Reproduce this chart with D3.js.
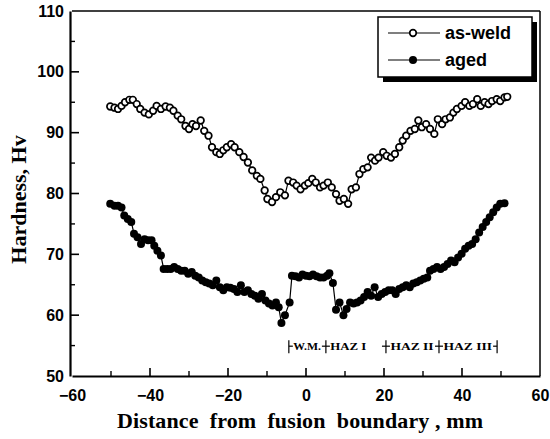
<!DOCTYPE html>
<html>
<head>
<meta charset="utf-8">
<script src="https://cdn.jsdelivr.net/npm/d3@7"></script>
<style>
  html, body { margin: 0; padding: 0; background: #fff; }
  svg { display: block; }
</style>
</head>
<body>
<div id="chart"></div>
<script>
// ---------- data ----------
const asWeldX = [-50.2,-49.1,-48.2,-47.3,-46.4,-45.3,-44.4,-43.4,-42.5,-41.4,-40.3,-39.2,-38.3,-37.2,-36.0,-34.9,-34.0,-32.9,-32.0,-30.9,-30.0,-29.1,-28.2,-27.0,-26.1,-25.0,-24.1,-23.0,-22.1,-21.2,-20.3,-19.2,-18.3,-17.1,-16.0,-14.9,-13.8,-12.6,-11.7,-10.6,-9.9,-8.7,-7.7,-6.6,-5.4,-4.5,-3.3,-2.4,-1.4,-0.3,0.6,1.6,2.5,3.6,4.5,5.6,6.6,7.7,8.6,9.7,10.8,11.7,12.8,13.7,14.7,15.8,16.7,17.7,18.6,19.8,20.7,21.8,22.8,23.9,24.8,25.7,26.8,27.9,28.8,29.7,30.8,31.8,32.9,33.8,34.9,35.8,36.9,37.8,38.7,39.9,40.8,41.9,42.8,43.9,44.8,45.8,46.8,47.7,48.9,49.8,50.9,51.6];
const asWeldY = [94.3,94.1,93.9,94.4,95.0,95.4,95.4,94.7,93.9,93.3,93.0,93.6,94.4,93.9,94.3,94.1,93.6,92.8,92.2,91.1,90.6,91.4,91.1,92.0,90.3,89.5,87.6,86.8,86.5,87.1,87.6,88.1,87.6,86.8,86.0,85.1,83.8,82.9,82.4,80.5,79.1,78.6,79.4,80.2,79.7,82.1,81.8,81.3,80.7,81.3,81.7,82.4,81.8,81.0,81.3,81.8,81.0,79.9,78.8,79.1,78.3,80.7,81.0,83.2,84.0,84.3,85.9,85.4,85.9,86.8,86.2,85.9,86.5,87.6,88.7,89.5,90.3,90.6,92.0,90.9,91.4,90.6,89.8,92.2,91.4,92.2,92.5,93.3,93.9,94.4,95.0,94.4,94.7,95.5,94.4,95.0,94.7,95.2,95.5,95.2,95.8,95.9];

const agedX = [-50.2,-49.1,-48.2,-47.3,-46.6,-45.7,-44.8,-44.1,-43.2,-42.3,-41.4,-40.5,-39.6,-38.9,-38.1,-37.2,-36.5,-35.6,-34.7,-33.8,-32.9,-32.0,-31.1,-30.2,-29.3,-28.4,-27.5,-26.6,-25.7,-24.8,-23.9,-23.0,-22.1,-21.2,-20.3,-19.4,-18.5,-17.6,-16.7,-15.8,-14.9,-14.0,-13.1,-12.2,-11.3,-10.4,-9.5,-8.6,-7.7,-7.0,-6.3,-5.4,-4.2,-3.6,-2.7,-1.8,-0.9,0.0,0.9,1.8,2.7,3.6,4.5,5.4,6.0,6.9,7.7,8.6,9.6,10.4,11.3,12.2,13.1,14.0,14.9,15.8,16.7,17.6,18.5,19.4,20.3,21.2,22.1,23.0,23.9,24.8,25.7,26.6,27.5,28.4,29.3,30.2,31.1,31.8,32.7,33.6,34.5,35.4,36.3,37.2,38.1,39.0,39.9,40.8,41.7,42.6,43.5,44.4,45.3,46.2,47.1,48.0,48.9,49.8,50.9];
const agedY = [78.3,78.0,78.0,77.7,76.4,75.8,75.3,73.4,72.8,71.7,72.5,72.3,72.3,71.4,70.6,69.8,67.6,67.6,67.6,67.9,67.6,67.3,67.3,66.8,67.1,66.5,66.2,65.7,65.4,65.2,64.9,65.7,64.6,64.1,64.6,64.5,64.3,63.8,64.9,63.8,64.1,63.5,63.2,62.7,63.5,62.4,61.9,61.6,62.1,61.3,58.7,60.0,62.1,66.5,66.4,66.2,66.7,66.5,66.4,66.7,66.4,66.2,66.2,66.5,66.9,65.3,60.9,62.1,60.0,61.0,62.1,61.9,62.1,62.4,63.0,63.8,63.2,64.6,63.0,63.5,63.8,64.1,64.1,63.5,64.3,64.6,64.9,64.6,65.2,65.4,65.7,66.0,66.2,67.3,67.6,67.9,67.6,67.9,68.4,69.0,68.7,69.5,70.1,70.9,71.4,71.7,72.5,73.6,74.5,75.3,76.1,76.9,77.7,78.3,78.4];

const seriesNames = ["as-weld", "aged"];
const xTickLabels = [-60, -40, -20, 0, 20, 40, 60];
const yTickLabels = [50, 60, 70, 80, 90, 100, 110];
const zoneBounds = [-4.4, 5.1, 20.5, 34.1, 49.0];
const zoneLabels = ["W.M.", "HAZ I", "HAZ II", "HAZ III"];
const zoneLevel = 54.9;

// ---------- layout ----------
const W = 550, H = 439;
const X0 = 72, X1 = 540, Y0 = 376, Y1 = 11;

const svg = d3.select("#chart").append("svg")
  .attr("width", W).attr("height", H)
  .attr("viewBox", `0 0 ${W} ${H}`);

const x = d3.scaleLinear().domain([-60, 60]).range([X0, X1]);
const y = d3.scaleLinear().domain([50, 110]).range([Y0, Y1]);

// frame (top & right)
svg.append("line").attr("x1", x(-60)).attr("x2", x(60)).attr("y1", y(110)).attr("y2", y(110))
  .attr("stroke", "#000").attr("stroke-width", 1.5);
svg.append("line").attr("x1", x(60)).attr("x2", x(60)).attr("y1", y(110)).attr("y2", y(50))
  .attr("stroke", "#000").attr("stroke-width", 1.5);

// axes
const xMinor = d3.range(-50, 60, 20);
const yMinor = d3.range(55, 110, 10);

const gx = svg.append("g").attr("transform", `translate(0,${Y0})`);
gx.call(d3.axisBottom(x).tickValues(xTickLabels).tickSize(0).tickPadding(14).tickFormat(d => d < 0 ? "\u2212" + Math.abs(d) : d));
gx.select(".domain").attr("stroke-width", 2.2);
gx.selectAll(".tick text").attr("font-family", "Liberation Sans, Arial, sans-serif")
  .attr("font-size", 16).attr("font-weight", "bold").attr("fill", "#000");
gx.selectAll(".tickmaj").data(xTickLabels.slice(1, -1)).enter().append("line")
  .attr("x1", d => x(d)).attr("x2", d => x(d)).attr("y1", 0).attr("y2", -8)
  .attr("stroke", "#000").attr("stroke-width", 1.6);
gx.selectAll(".tickmin").data(xMinor).enter().append("line")
  .attr("x1", d => x(d)).attr("x2", d => x(d)).attr("y1", 0).attr("y2", -5)
  .attr("stroke", "#000").attr("stroke-width", 1.4);

const gy = svg.append("g").attr("transform", `translate(${X0 - 2},0)`);
gy.call(d3.axisLeft(y).tickValues(yTickLabels).tickSize(0).tickPadding(6));
gy.select(".domain").attr("stroke-width", 2.2);
gy.selectAll(".tick text").attr("font-family", "Liberation Sans, Arial, sans-serif")
  .attr("font-size", 16).attr("font-weight", "bold").attr("fill", "#000");
gy.selectAll(".tickmaj").data(yTickLabels.slice(1, -1)).enter().append("line")
  .attr("x1", 0).attr("x2", 9).attr("y1", d => y(d)).attr("y2", d => y(d))
  .attr("stroke", "#000").attr("stroke-width", 1.6);
gy.selectAll(".tickmin").data(yMinor).enter().append("line")
  .attr("x1", 0).attr("x2", 5).attr("y1", d => y(d)).attr("y2", d => y(d))
  .attr("stroke", "#000").attr("stroke-width", 1.4);

// axis titles
svg.append("text")
  .attr("transform", `translate(26,${(Y0 + Y1) / 2 + 6}) rotate(-90)`)
  .attr("text-anchor", "middle")
  .attr("font-family", "Liberation Serif, Times New Roman, serif")
  .attr("font-size", 22).attr("font-weight", "bold")
  .text("Hardness, Hv");

svg.append("text")
  .attr("x", 300).attr("y", 428)
  .attr("text-anchor", "middle")
  .attr("font-family", "Liberation Serif, Times New Roman, serif")
  .attr("font-size", 22).attr("font-weight", "bold")
  .attr("textLength", 366).attr("lengthAdjust", "spacing")
  .text("Distance\u00a0\u00a0from\u00a0\u00a0fusion\u00a0\u00a0boundary\u00a0, mm");

// series
const asWeld = asWeldX.map((v, i) => [v, asWeldY[i]]);
const aged = agedX.map((v, i) => [v, agedY[i]]);
const line = d3.line().x(d => x(d[0])).y(d => y(d[1]));

svg.append("path").datum(aged).attr("d", line)
  .attr("fill", "none").attr("stroke", "#000").attr("stroke-width", 1.2);
svg.selectAll(".aged").data(aged).enter().append("circle")
  .attr("cx", d => x(d[0])).attr("cy", d => y(d[1])).attr("r", 4)
  .attr("fill", "#000");

svg.append("path").datum(asWeld).attr("d", line)
  .attr("fill", "none").attr("stroke", "#000").attr("stroke-width", 1.2);
svg.selectAll(".asweld").data(asWeld).enter().append("circle")
  .attr("cx", d => x(d[0])).attr("cy", d => y(d[1])).attr("r", 3.3)
  .attr("fill", "#fff").attr("stroke", "#000").attr("stroke-width", 1.7);

// zone annotation
const zy = y(zoneLevel);
const gz = svg.append("g");
zoneBounds.forEach((b, i) => {
  const bx = x(b);
  gz.append("line").attr("x1", bx).attr("x2", bx).attr("y1", zy - 6).attr("y2", zy + 7)
    .attr("stroke", "#000").attr("stroke-width", 1.2);
  if (i > 0) gz.append("line").attr("x1", bx - 4).attr("x2", bx).attr("y1", zy).attr("y2", zy)
    .attr("stroke", "#000").attr("stroke-width", 1.2);
  if (i < zoneBounds.length - 1) gz.append("line").attr("x1", bx).attr("x2", bx + 4).attr("y1", zy).attr("y2", zy)
    .attr("stroke", "#000").attr("stroke-width", 1.2);
});
zoneLabels.forEach((t, i) => {
  const a = x(zoneBounds[i]) + 4.5, b = x(zoneBounds[i + 1]) - 5;
  gz.append("text").attr("x", a).attr("y", zy + 4)
    .attr("font-family", "Liberation Serif, Times New Roman, serif")
    .attr("font-size", 11).attr("font-weight", "bold")
    .attr("textLength", Math.min(b - a, t.length * 7.2))
    .attr("lengthAdjust", "spacingAndGlyphs")
    .text(t);
});

// legend
const lg = svg.append("g");
lg.append("rect").attr("x", 383).attr("y", 22).attr("width", 154).attr("height", 60).attr("fill", "#000");
lg.append("rect").attr("x", 378).attr("y", 17).attr("width", 154).attr("height", 60)
  .attr("fill", "#fff").attr("stroke", "#000").attr("stroke-width", 1.5);
seriesNames.forEach((name, i) => {
  const ly = 33 + i * 27;
  lg.append("line").attr("x1", 388).attr("x2", 440).attr("y1", ly).attr("y2", ly)
    .attr("stroke", "#000").attr("stroke-width", 1.2);
  const c = lg.append("circle").attr("cx", 413).attr("cy", ly);
  if (i === 0) c.attr("r", 3.3).attr("fill", "#fff").attr("stroke", "#000").attr("stroke-width", 1.7);
  else c.attr("r", 4).attr("fill", "#000");
  lg.append("text").attr("x", 445).attr("y", ly + 6)
    .attr("font-family", "Liberation Sans, Arial, sans-serif")
    .attr("font-size", 18).attr("font-weight", "bold")
    .text(name);
});
</script>
</body>
</html>
